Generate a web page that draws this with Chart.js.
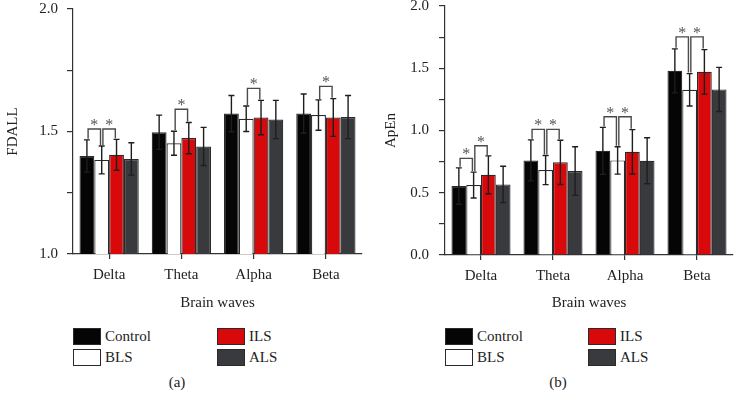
<!DOCTYPE html>
<html>
<head>
<meta charset="utf-8">
<script src="https://cdn.jsdelivr.net/npm/chart.js@4.4.1/dist/chart.umd.min.js"></script>
<style>
  body { margin: 0; background: #fff; }
  #wrap { position: relative; width: 734px; height: 398px; font-family: 'Liberation Serif', serif; color: #222; overflow: hidden; }
  .panel { position: absolute; }
  .item { position: absolute; display: flex; align-items: center; white-space: nowrap; font-size: 15px; }
  .box { width: 26px; height: 15px; border: 1px solid #2a2a2a; margin-right: 4px; }
  .tag { position: absolute; top: 374px; font-size: 15px; transform: translateX(-50%); }
</style>
</head>
<body>
<div id="wrap">
  <div class="panel" style="left:0;top:-9px;width:367px;height:321px"><canvas id="chart-a"></canvas></div>
  <div class="panel" style="left:372px;top:-13px;width:362px;height:325px"><canvas id="chart-b"></canvas></div>
  <div class="tag" style="left:177px">(a)</div>
  <div class="tag" style="left:558px">(b)</div>
</div>
<script>
const categories = ['Delta', 'Theta', 'Alpha', 'Beta'];
const groups = ['Control', 'BLS', 'ILS', 'ALS'];
const groupColors = ['#050505', '#ffffff', '#d8090b', '#383a3d'];

// FDALL means and error (SD) per group
const fdallControl = [1.400, 1.497, 1.573, 1.573];
const fdallBLS     = [1.384, 1.452, 1.552, 1.567];
const fdallILS     = [1.405, 1.473, 1.557, 1.557];
const fdallALS     = [1.388, 1.439, 1.549, 1.559];
const fdallControlErr = [0.066, 0.070, 0.074, 0.080];
const fdallBLSErr     = [0.057, 0.049, 0.052, 0.062];
const fdallILSErr     = [0.063, 0.064, 0.070, 0.077];
const fdallALSErr     = [0.066, 0.078, 0.078, 0.088];

// ApEn means and error per group
const apenControl = [0.554, 0.760, 0.837, 1.479];
const apenBLS     = [0.562, 0.682, 0.760, 1.327];
const apenILS     = [0.644, 0.744, 0.829, 1.471];
const apenALS     = [0.567, 0.674, 0.757, 1.330];
const apenControlErr = [0.146, 0.165, 0.188, 0.177];
const apenBLSErr     = [0.104, 0.117, 0.110, 0.130];
const apenILSErr     = [0.152, 0.178, 0.178, 0.179];
const apenALSErr     = [0.146, 0.195, 0.185, 0.177];

// significance brackets: [category, group from, group to, bracket level]
const fdallSig = [[0, 0, 1, 1.51], [0, 1, 2, 1.51], [1, 1, 2, 1.591], [2, 1, 2, 1.676], [3, 1, 2, 1.684]];
const apenSig = [[0, 0, 1, 0.776], [0, 1, 2, 0.877], [1, 0, 1, 1.009], [1, 1, 2, 1.009],
                 [2, 0, 1, 1.11], [2, 1, 2, 1.11], [3, 0, 1, 1.752], [3, 1, 2, 1.752]];

Chart.defaults.font.family = "'Liberation Serif', serif";
Chart.defaults.font.size = 15;
Chart.defaults.color = '#222';

function errorBars(brackets) {
  return {
    id: 'errorBars',
    afterDatasetsDraw(chart) {
      const ctx = chart.ctx;
      const y = chart.scales.y;
      const sets = chart.data.datasets;
      const topOf = (i, c) => y.getPixelForValue(sets[i].data[c] + sets[i].errors[c]);
      ctx.save();
      ctx.strokeStyle = '#1e1e1e';
      ctx.lineWidth = 1.4;
      sets.forEach((ds, i) => {
        chart.getDatasetMeta(i).data.forEach((bar, c) => {
          const top = topOf(i, c);
          const bot = y.getPixelForValue(ds.data[c] - ds.errors[c]);
          ctx.beginPath();
          ctx.moveTo(bar.x, top); ctx.lineTo(bar.x, bot);
          ctx.moveTo(bar.x - 3, top); ctx.lineTo(bar.x + 3, top);
          ctx.moveTo(bar.x - 3, bot); ctx.lineTo(bar.x + 3, bot);
          ctx.stroke();
        });
      });
      ctx.strokeStyle = '#4a4a4a';
      ctx.fillStyle = '#555';
      ctx.textAlign = 'center';
      ctx.textBaseline = 'alphabetic';
      ctx.font = "16px 'Liberation Serif'";
      brackets.forEach(([c, a, b, level]) => {
        const xa = chart.getDatasetMeta(a).data[c].x + 1.2;
        const xb = chart.getDatasetMeta(b).data[c].x - 1.2;
        const yl = y.getPixelForValue(level);
        ctx.beginPath();
        ctx.moveTo(xa, topOf(a, c) - 1);
        ctx.lineTo(xa, yl);
        ctx.lineTo(xb, yl);
        ctx.lineTo(xb, topOf(b, c) - 1);
        ctx.stroke();
        ctx.fillText('*', (xa + xb) / 2, yl + 1);
      });
      ctx.restore();
    }
  };
}

function makeChart(id, cfg) {
  const datasets = groups.map((g, i) => ({
    label: g,
    data: cfg.values[i],
    errors: cfg.errors[i],
    backgroundColor: groupColors[i],
    borderColor: '#2a2a2a',
    borderWidth: 1.2,
    barPercentage: 1.0,
    categoryPercentage: 0.82,
  }));

  return new Chart(document.getElementById(id), {
    type: 'bar',
    data: { labels: categories, datasets },
    plugins: [errorBars(cfg.brackets)],
    options: {
      responsive: true,
      maintainAspectRatio: false,
      animation: false,
      layout: { padding: { top: 0, right: cfg.padRight, bottom: 0, left: 0 } },
      plugins: { legend: { display: false }, tooltip: { enabled: false } },
      scales: {
        x: {
          grid: { drawOnChartArea: false, offset: false, tickLength: 5, color: '#333', lineWidth: 1.2 },
          border: { color: '#333', width: 1.2 },
          ticks: { padding: 7 },
          title: { display: true, text: 'Brain waves', padding: { top: 0, bottom: 0 } },
          afterFit: (s) => { s.height = cfg.xHeight; }
        },
        y: {
          min: cfg.min,
          max: 2.0,
          ticks: {
            stepSize: 0.25,
            padding: cfg.tickPad,
            callback: (v) => (Math.abs(v * 2 - Math.round(v * 2)) < 1e-6 ? v.toFixed(1) : '')
          },
          grid: { drawOnChartArea: false, tickLength: 6, color: '#333', lineWidth: 1.2 },
          border: { color: '#333', width: 1.2 },
          title: { display: true, text: cfg.title, padding: { top: cfg.titlePad, bottom: 0 } },
          afterFit: (s) => { s.width = 73; }
        }
      }
    }
  });
}

makeChart('chart-a', {
  title: 'FDALL', min: 1.0,
  values: [fdallControl, fdallBLS, fdallILS, fdallALS],
  errors: [fdallControlErr, fdallBLSErr, fdallILSErr, fdallALSErr],
  brackets: fdallSig,
  padRight: 5, xHeight: 58, tickPad: 9, titlePad: 4
});

makeChart('chart-b', {
  title: 'ApEn', min: 0.0,
  values: [apenControl, apenBLS, apenILS, apenALS],
  errors: [apenControlErr, apenBLSErr, apenILSErr, apenALSErr],
  brackets: apenSig,
  padRight: 1, xHeight: 57, tickPad: 10, titlePad: 10
});

// legend, 2 x 2 grid under each panel
const wrap = document.getElementById('wrap');
const legendCols = [[73, 217], [445, 588]];
const legendRows = [328, 349];
const legendSlot = [[0, 0], [0, 1], [1, 0], [1, 1]]; // [col, row] per group
legendCols.forEach((cols) => {
  groups.forEach((g, i) => {
    const [col, row] = legendSlot[i];
    const el = document.createElement('div');
    el.className = 'item';
    el.style.left = cols[col] + 'px';
    el.style.top = legendRows[row] + 'px';
    el.innerHTML = '<div class="box" style="background:' + groupColors[i] + '"></div><span>' + g + '</span>';
    wrap.appendChild(el);
  });
});
</script>
</body>
</html>
